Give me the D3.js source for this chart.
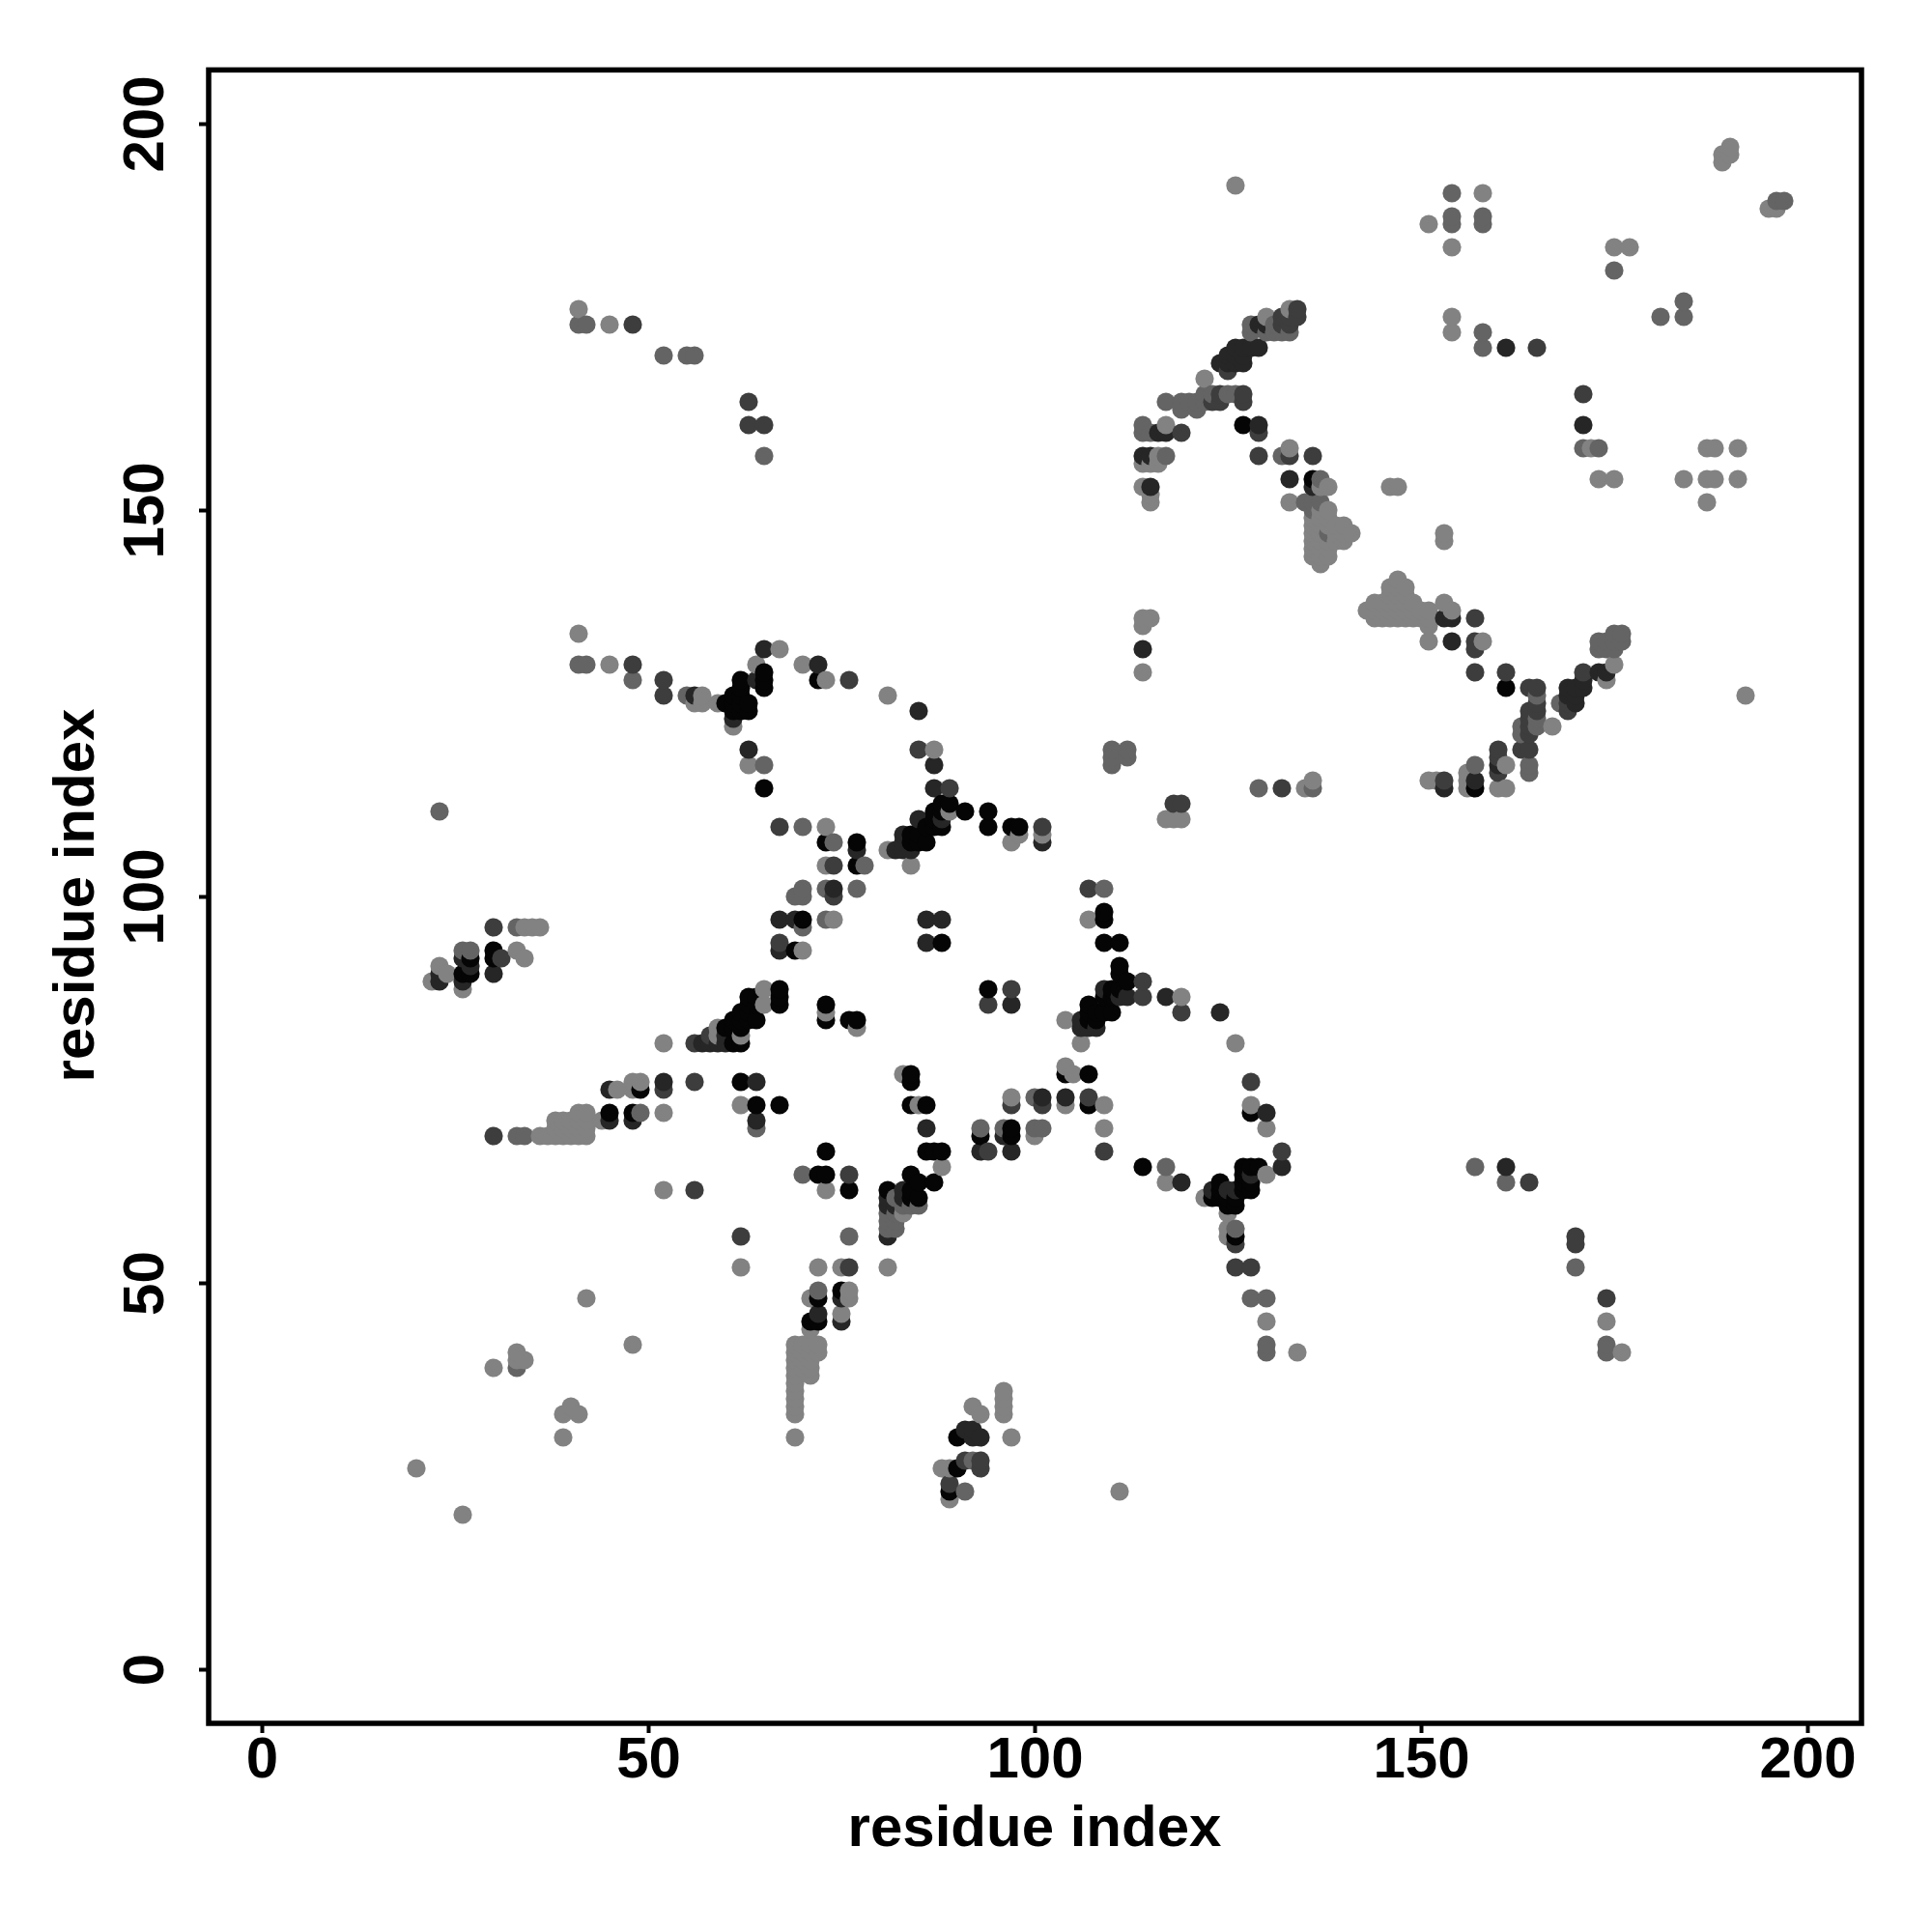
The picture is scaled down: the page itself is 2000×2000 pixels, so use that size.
<!DOCTYPE html>
<html><head><meta charset="utf-8">
<script src="https://cdn.jsdelivr.net/npm/d3@7"></script>
<style>html,body{margin:0;background:#fff}svg{display:block}text{font-family:"Liberation Sans",Arial,sans-serif;font-weight:bold;fill:#000}</style>
</head><body><svg id="c" width="2000" height="2000"></svg>
<script>
const tickValues=[0,50,100,150,200];
const axisTitle="residue index";
const shadeLevels=["#050505","#262626","#3d3d3d","#646464","#828282"];
const contactsBlack=[[27,92],[26,90],[27,90],[30,93],[30,92],[67,88],[67,87],[67,86],[73,86],[73,84],[76,84],[77,84],[63,87],[64,87],[64,86],[63,86],[64,84],[63,85],[62,85],[61,84],[62,84],[63,84],[62,83],[61,83],[62,81],[60,83],[61,81],[62,76],[49,75],[64,73],[67,73],[45,72],[48,72],[73,67],[72,64],[73,64],[76,62],[72,48],[75,49],[71,45],[72,45],[88,94],[109,97],[109,98],[109,94],[111,94],[111,91],[111,90],[111,88],[112,89],[110,88],[109,87],[110,87],[107,86],[110,85],[109,85],[108,85],[107,85],[107,84],[108,84],[94,88],[104,77],[107,77],[84,77],[84,76],[84,73],[86,73],[86,67],[87,67],[88,67],[84,64],[87,63],[85,63],[85,61],[84,62],[84,61],[81,62],[93,69],[97,70],[97,69],[107,73],[114,65],[123,61],[124,63],[124,62],[124,61],[125,61],[125,60],[126,60],[126,61],[127,64],[127,63],[127,62],[128,63],[128,62],[127,65],[128,65],[129,65],[126,56],[128,72],[60,125],[61,125],[61,126],[62,128],[62,127],[62,126],[63,125],[61,124],[62,124],[63,124],[62,125],[65,129],[65,128],[65,127],[72,128],[65,114],[88,112],[89,112],[87,111],[88,111],[91,111],[87,110],[86,109],[87,109],[88,109],[85,108],[85,107],[86,107],[84,108],[84,107],[94,111],[94,109],[97,109],[98,109],[73,107],[77,107],[77,104],[70,97],[69,93],[127,161],[136,154],[161,127],[157,114],[90,30],[90,26],[89,23]];
const contactsDark=[[23,89],[23,90],[26,89],[26,92],[27,91],[30,90],[45,75],[45,71],[52,76],[64,76],[64,71],[72,46],[75,48],[75,45],[86,97],[86,70],[97,86],[111,87],[112,87],[106,84],[106,83],[107,83],[108,83],[109,88],[104,74],[101,74],[93,67],[96,69],[97,67],[117,87],[124,85],[128,64],[130,72],[132,65],[119,63],[123,62],[125,62],[126,62],[63,119],[65,132],[72,130],[85,124],[56,126],[87,117],[87,114],[77,106],[74,101],[67,97],[69,97],[67,93],[86,94],[88,97],[85,110],[83,108],[82,106],[83,106],[84,106],[83,107],[88,110],[101,107],[161,171],[171,161],[129,161],[125,170],[126,170],[127,170],[126,169],[127,169],[128,171],[127,171],[129,171],[125,169],[124,169],[126,171],[130,174],[129,174],[115,157],[114,157],[115,153],[117,160],[116,160],[136,153],[133,154],[114,132],[154,136],[153,136],[154,133],[157,115],[153,114],[160,117],[169,127],[170,127],[170,126],[169,126],[171,128],[171,127],[170,125],[173,129],[174,129],[91,31],[92,31],[92,30],[93,30],[161,65],[81,61],[81,60],[82,60],[81,56],[83,61],[83,62],[61,123],[64,128],[48,71],[60,81],[59,81],[58,81],[57,81],[60,82]];
const contactsMid=[[30,96],[31,92],[30,69],[56,62],[52,75],[56,76],[62,56],[101,73],[97,73],[94,67],[94,86],[97,88],[85,119],[89,114],[67,109],[74,104],[101,109],[74,100],[67,94],[114,89],[114,87],[119,85],[132,67],[128,76],[128,52],[126,52],[126,55],[170,55],[170,56],[164,63],[76,64],[107,74],[109,67],[52,128],[76,128],[48,174],[63,164],[63,161],[65,161],[129,157],[133,157],[136,157],[129,160],[119,160],[127,164],[127,165],[123,164],[124,164],[124,165],[165,171],[171,165],[157,136],[157,133],[157,132],[157,129],[161,129],[164,127],[165,127],[169,125],[169,124],[171,129],[164,124],[164,123],[164,122],[165,125],[165,124],[164,121],[160,119],[160,118],[160,116],[153,115],[132,114],[174,48],[52,126],[48,130],[164,119],[163,119],[134,176],[134,175],[133,175],[132,175],[132,174],[133,174],[118,112],[119,112],[91,27],[93,27],[93,26],[89,24],[107,101],[125,168],[76,52],[56,81],[58,82]];
const contactsSoft=[[27,93],[26,93],[33,96],[33,69],[34,69],[49,72],[33,39],[64,70],[70,64],[72,49],[76,56],[93,70],[96,70],[100,70],[101,70],[100,74],[117,65],[126,57],[130,48],[128,48],[130,42],[130,41],[55,126],[48,128],[42,130],[41,130],[65,117],[70,109],[74,107],[78,104],[73,101],[70,101],[70,100],[69,100],[73,97],[70,96],[77,101],[41,174],[42,174],[52,170],[55,170],[56,170],[65,157],[23,111],[110,119],[110,117],[110,118],[112,119],[112,118],[117,164],[119,164],[120,164],[121,164],[122,165],[123,165],[125,165],[126,165],[122,164],[114,161],[114,160],[115,160],[119,163],[121,163],[158,173],[158,171],[171,158],[173,158],[132,157],[137,154],[117,157],[135,151],[136,151],[137,151],[164,117],[163,122],[163,121],[165,126],[165,123],[165,122],[168,125],[176,134],[175,134],[173,133],[173,132],[174,133],[174,132],[175,133],[175,132],[176,133],[157,117],[129,114],[136,114],[154,191],[154,188],[154,187],[158,188],[158,187],[174,42],[174,41],[170,52],[157,65],[161,63],[164,116],[130,173],[131,174],[131,173],[132,173],[133,173],[128,173],[128,174],[136,150],[138,147],[196,190],[197,190],[181,175],[184,177],[184,175],[175,181],[92,27],[91,23],[109,101],[81,59],[81,58],[81,57],[82,59],[82,58],[82,61],[83,60],[84,60],[85,60],[82,57]];
const contactsGrey=[[22,89],[23,91],[24,90],[26,88],[33,93],[34,92],[34,96],[35,96],[36,96],[36,69],[37,69],[38,69],[39,69],[40,69],[41,69],[42,69],[38,70],[39,70],[40,70],[41,70],[42,70],[38,71],[39,71],[40,71],[41,71],[41,72],[42,72],[42,71],[44,71],[46,75],[48,76],[49,76],[48,75],[52,72],[52,62],[62,73],[62,52],[65,88],[65,86],[62,82],[59,83],[59,82],[52,81],[73,85],[77,83],[73,62],[72,52],[75,52],[76,49],[76,48],[71,48],[75,46],[71,44],[42,48],[48,42],[30,39],[33,41],[33,40],[34,40],[40,34],[39,33],[41,33],[39,30],[69,42],[69,41],[69,40],[69,39],[69,38],[69,37],[69,36],[69,35],[69,34],[69,33],[70,42],[70,41],[70,40],[70,39],[71,42],[71,41],[71,40],[71,39],[71,38],[72,42],[72,41],[69,30],[83,77],[85,73],[88,65],[83,59],[81,52],[104,84],[106,81],[104,78],[105,77],[97,74],[104,73],[109,73],[100,69],[109,70],[117,63],[119,87],[126,81],[128,73],[130,70],[122,61],[125,59],[125,57],[125,56],[130,64],[130,45],[134,41],[41,134],[41,176],[45,130],[45,174],[57,126],[56,125],[57,125],[59,125],[61,122],[64,130],[67,132],[63,117],[70,130],[73,128],[81,126],[87,119],[89,111],[81,106],[84,104],[98,108],[97,107],[101,108],[73,109],[73,104],[74,97],[70,93],[107,97],[111,23],[20,26],[26,20],[88,26],[89,26],[89,22],[92,34],[93,33],[96,36],[96,35],[96,34],[96,33],[97,30],[122,167],[130,175],[133,176],[115,156],[116,156],[114,156],[117,161],[116,157],[114,153],[115,152],[115,151],[137,153],[138,153],[133,158],[133,151],[136,149],[137,150],[137,149],[138,150],[138,149],[136,148],[137,148],[138,148],[139,148],[136,147],[137,147],[139,147],[140,148],[140,147],[141,147],[136,146],[137,146],[138,146],[139,146],[140,146],[136,145],[137,145],[138,145],[136,144],[137,144],[138,144],[137,143],[146,153],[147,153],[153,147],[153,146],[143,137],[144,138],[144,137],[144,136],[145,138],[145,137],[145,136],[146,140],[146,139],[146,138],[146,137],[146,136],[147,141],[147,140],[147,139],[147,138],[147,137],[147,136],[148,140],[148,139],[148,138],[148,137],[148,136],[149,138],[149,137],[149,136],[150,137],[150,136],[151,137],[151,136],[151,135],[151,133],[153,138],[154,137],[158,133],[114,136],[115,136],[114,135],[114,129],[154,175],[154,173],[172,158],[173,154],[175,154],[126,192],[151,187],[154,184],[158,191],[189,196],[189,195],[190,197],[190,196],[195,189],[196,189],[175,184],[177,184],[184,154],[187,158],[188,158],[187,154],[188,154],[187,151],[191,158],[191,154],[192,126],[167,122],[175,130],[174,128],[151,115],[152,115],[156,116],[156,115],[156,114],[161,117],[161,114],[160,114],[136,115],[135,114],[117,110],[118,110],[119,110],[174,45],[176,41]];

const shadeGroups=[contactsBlack,contactsDark,contactsMid,contactsSoft,contactsGrey];
const seen=new Set();
const points=[];
shadeGroups.forEach((g,s)=>g.forEach(d=>{
  const key=d[0]+"_"+d[1];
  if(seen.has(key))return;
  seen.add(key);
  points.push({i:d[0],j:d[1],color:shadeLevels[s]});
}));
points.sort((a,b)=>d3.ascending(a.i,b.i)||d3.ascending(a.j,b.j));

const svg=d3.select("#c");
const x=d3.scaleLinear().domain([-6.875,207]).range([216,1927]);
const y=d3.scaleLinear().domain([-7,206.95]).range([1784,72.4]);

svg.append("g").selectAll("circle").data(points).join("circle")
  .attr("cx",d=>x(d.i)).attr("cy",d=>y(d.j)).attr("r",9.6).attr("fill",d=>d.color);

svg.append("rect").attr("x",x.range()[0]).attr("y",y.range()[1])
  .attr("width",x.range()[1]-x.range()[0]).attr("height",y.range()[0]-y.range()[1])
  .attr("fill","none").attr("stroke","#000").attr("stroke-width",5.5);

const fontSize="60px";
const xAxis=svg.append("g").attr("transform",`translate(0,${y.range()[0]})`)
  .call(d3.axisBottom(x).tickValues(tickValues).tickSize(10).tickFormat(d3.format("d")));
const yAxis=svg.append("g").attr("transform",`translate(${x.range()[0]},0)`)
  .call(d3.axisLeft(y).tickValues(tickValues).tickSize(10).tickFormat(d3.format("d")));
[xAxis,yAxis].forEach(a=>{a.select(".domain").remove();a.selectAll("line").attr("stroke","#000").attr("stroke-width",4);});
xAxis.selectAll("text").attr("y",0).attr("dy",0).attr("transform","translate(0,56)").style("font-size",fontSize).attr("text-anchor","middle");
yAxis.selectAll("text").attr("x",0).attr("dy",0).attr("text-anchor","middle").style("font-size",fontSize)
  .attr("transform","translate(-47,0) rotate(-90)");

svg.append("text").attr("x",1071).attr("y",1911).attr("text-anchor","middle").style("font-size",fontSize).text(axisTitle);
svg.append("text").attr("transform","translate(97,927) rotate(-90)").attr("text-anchor","middle").style("font-size",fontSize).text(axisTitle);
</script></body></html>
